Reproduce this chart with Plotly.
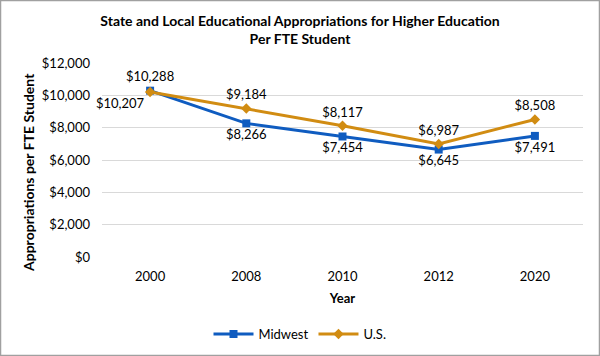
import plotly.graph_objects as go

years = ["2000", "2008", "2010", "2012", "2020"]
midwest = [10288, 8266, 7454, 6645, 7491]
us = [10207, 9184, 8117, 6987, 8508]
y_ticks = [0, 2000, 4000, 6000, 8000, 10000, 12000]
y_tick_text = ["$0", "$2,000", "$4,000", "$6,000", "$8,000", "$10,000", "$12,000"]

BLUE = "#0F5CC0"
ORANGE = "#D18C12"
FONT = "Lato"

W, H = 600, 356
L, R, T, B = 102, 17, 63, 99
pw, ph = W - L - R, H - T - B

fig = go.Figure()
fig.add_trace(go.Scatter(
    x=years, y=midwest, name="Midwest", mode="lines+markers+text",
    line=dict(color=BLUE, width=3), marker=dict(symbol="square", size=8, color=BLUE),
    texttemplate="$%{y:,}", textposition=["top center"] + ["bottom center"] * 4,
    textfont=dict(family=FONT, size=13, color="#000"), cliponaxis=False,
))
fig.add_trace(go.Scatter(
    x=years, y=us, name="U.S.", mode="lines+markers+text",
    line=dict(color=ORANGE, width=3), marker=dict(symbol="diamond", size=8, color=ORANGE),
    texttemplate="$%{y:,}", textposition=["bottom left"] + ["top center"] * 4,
    textfont=dict(family=FONT, size=13, color="#000"), cliponaxis=False,
))

fig.update_layout(
    width=W, height=H,
    margin=dict(l=L, r=R, t=T, b=B, autoexpand=False),
    paper_bgcolor="white", plot_bgcolor="white",
    font=dict(family=FONT, size=13, color="#000"),
    title=dict(text="<b>State and Local Educational Appropriations for Higher Education<br>Per FTE Student</b>",
               x=0.5, xanchor="center", xref="container", y=1 - 26 / H, yanchor="top",
               font=dict(family=FONT, size=14, color="#000")),
    xaxis=dict(type="category", range=[-0.5, 4.5], showgrid=False, showline=False, ticks="",
               ticklabelstandoff=10,
               title=dict(text="<b>Year</b>", font=dict(size=13), standoff=10),
               tickfont=dict(size=13)),
    yaxis=dict(range=[0, 12000], tickvals=y_ticks, ticktext=y_tick_text,
               showgrid=True, gridcolor="#D9D9D9", gridwidth=1, zeroline=False,
               showline=False, ticks="", ticklen=0, ticklabelstandoff=11,
               tickfont=dict(size=13)),
    annotations=[dict(text="<b>Appropriations per FTE Student</b>", textangle=-90,
                      xref="paper", yref="paper", x=(28 - L) / pw, y=(H - B - 173) / ph,
                      xanchor="center", yanchor="middle", showarrow=False,
                      font=dict(family=FONT, size=14, color="#000"))],
    legend=dict(orientation="h", x=0.5, xanchor="center", xref="container",
                y=1 - 334 / H, yanchor="middle", yref="container",
                font=dict(size=13), itemwidth=40),
    shapes=[dict(type="rect", xref="paper", yref="paper",
                 x0=(0.5 - L) / pw, x1=(W - 0.5 - L) / pw,
                 y0=-(B - 0.5) / ph, y1=(H - 0.5 - B) / ph,
                 line=dict(color="#A0A0A0", width=1.5), layer="above")],
)

fig.write_html("out.html", config={"displayModeBar": False},
               post_script="document.body.style.margin='0';document.body.style.padding='0';")
